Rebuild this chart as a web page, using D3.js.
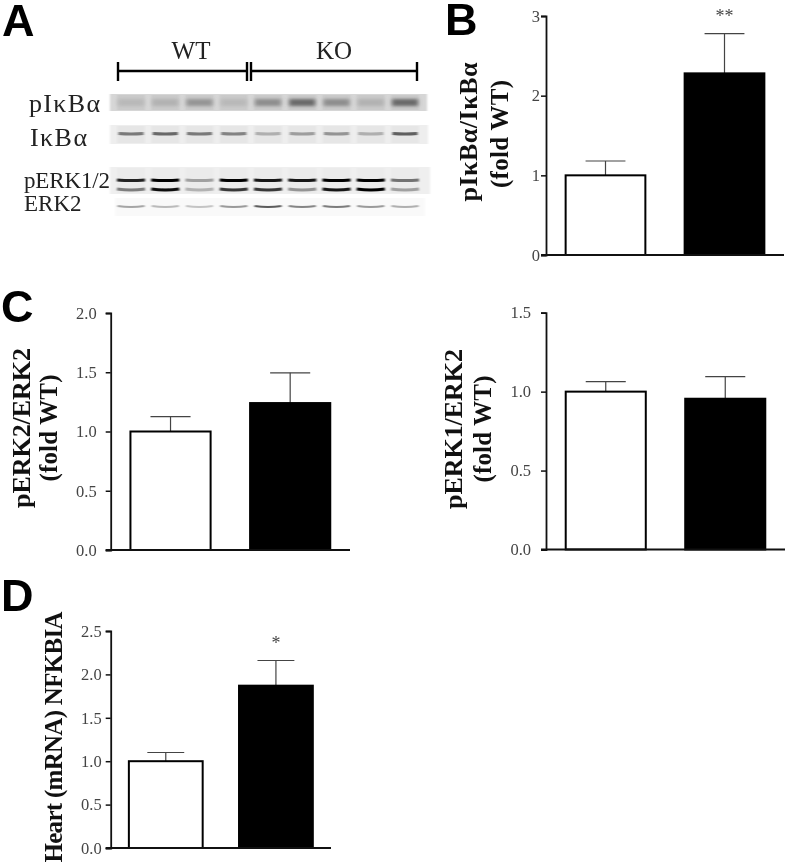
<!DOCTYPE html>
<html>
<head>
<meta charset="utf-8">
<script src="https://cdn.jsdelivr.net/npm/d3@7"></script>
<style>
  body { margin: 0; background: #fff; }
  svg { display: block; filter: blur(0.35px); }
  text { font-family: "Liberation Serif", serif; }
  .letter { font-family: "Liberation Sans", Arial, sans-serif; font-weight: bold; font-size: 45px; fill: #000; }
  .tick text { font-size: 16.5px; fill: #444; font-family: "Liberation Serif", serif; }
  .ylab { font-weight: bold; font-size: 26px; fill: #111; }
</style>
</head>
<body>
<svg width="788" height="866"></svg>
<script>
// bar panels
var groups = ['WT', 'KO'];

var ikbValues = [1.0, 2.28];
var ikbErrors = [0.18, 0.50];
var ikbTicks = [0, 1, 2, 3];

var erk2Values = [1.0, 1.24];
var erk2Errors = [0.125, 0.255];
var erk2Ticks = [0, 0.5, 1.0, 1.5, 2.0];

var erk1Values = [1.0, 0.955];
var erk1Errors = [0.063, 0.14];
var erk1Ticks = [0, 0.5, 1.0, 1.5];

var nfkbValues = [1.0, 1.87];
var nfkbErrors = [0.10, 0.29];
var nfkbTicks = [0, 0.5, 1.0, 1.5, 2.0, 2.5];

// blot band strength per lane, 0 = nothing, 1 = black
var lanes = [1, 2, 3, 4, 5, 6, 7, 8, 9];
var pikbBand = [0.3, 0.35, 0.55, 0.3, 0.6, 0.85, 0.6, 0.35, 0.85];
var ikbBand = [0.6, 0.7, 0.6, 0.55, 0.3, 0.4, 0.45, 0.3, 0.75];
var perk1Band = [0.85, 1, 0.3, 1, 0.9, 0.9, 1, 1, 0.5];
var perk2Band = [0.45, 0.95, 0.22, 0.75, 0.75, 0.35, 0.9, 1, 0.3];
var erk2Band = [0.3, 0.2, 0.15, 0.35, 0.65, 0.45, 0.5, 0.35, 0.25];

var svg = d3.select('svg');

function drawPanel(p) {
  var x = d3.scaleBand().domain(groups).range([p.left, p.right]).paddingInner(0.33).paddingOuter(0.165);
  var y = d3.scaleLinear().domain([0, p.max]).range([p.bottom, p.top]);
  var g = svg.append('g');

  // error bars go first so the bar outline sits on top
  groups.forEach(function(name, i) {
    var cx = x(name) + x.bandwidth() / 2;
    var capw = x.bandwidth() / 4;
    var top = y(p.values[i] + p.errors[i]);
    g.append('line').attr('x1', cx).attr('x2', cx).attr('y1', y(p.values[i])).attr('y2', top)
      .attr('stroke', '#444').attr('stroke-width', 1.2);
    g.append('line').attr('x1', cx - capw).attr('x2', cx + capw).attr('y1', top).attr('y2', top)
      .attr('stroke', '#444').attr('stroke-width', 1.2);
  });

  g.selectAll('rect').data(p.values).enter().append('rect')
    .attr('x', function(d, i) { return x(groups[i]); })
    .attr('y', function(d) { return y(d); })
    .attr('width', x.bandwidth())
    .attr('height', function(d) { return p.bottom - y(d); })
    .attr('fill', function(d, i) { return i === 0 ? '#fff' : '#000'; })
    .attr('stroke', '#000')
    .attr('stroke-width', 2);

  var axis = d3.axisLeft(y).tickValues(p.ticks).tickSize(5).tickPadding(p.pad).tickFormat(d3.format(p.fmt));
  var ag = g.append('g').attr('transform', 'translate(' + p.left + ',0)').call(axis);
  ag.selectAll('line').attr('stroke', '#111').attr('stroke-width', 1.5);
  ag.select('.domain').attr('stroke', '#111').attr('stroke-width', 1.8);

  g.append('line').attr('x1', p.left - 5).attr('x2', p.right).attr('y1', p.bottom).attr('y2', p.bottom)
    .attr('stroke', '#111').attr('stroke-width', 1.8);

  p.labels.forEach(function(l) {
    g.append('text').attr('class', 'ylab')
      .attr('transform', 'translate(' + l.x + ',' + l.y + ') rotate(-90)')
      .attr('text-anchor', 'middle')
      .attr('textLength', l.len)
      .style('font-size', l.size ? l.size + 'px' : null)
      .text(l.text);
  });

  if (p.stars) {
    var sx = x('KO') + x.bandwidth() / 2;
    g.append('text').attr('x', sx)
      .attr('y', y(p.values[1] + p.errors[1]) - 12)
      .attr('text-anchor', 'middle')
      .attr('font-size', 18).attr('fill', '#444')
      .text(p.stars);
  }
}

drawPanel({ left: 546, right: 784, top: 16, bottom: 255, max: 3, pad: 1, values: ikbValues, errors: ikbErrors, ticks: ikbTicks, fmt: 'd', stars: '**',
  labels: [{ x: 477, y: 132, text: 'pIκBα/IκBα', len: 139 }, { x: 508, y: 134, text: '(fold WT)', len: 108, size: 25 }] });
drawPanel({ left: 110.7, right: 350, top: 313, bottom: 550, max: 2, pad: 9, values: erk2Values, errors: erk2Errors, ticks: erk2Ticks, fmt: '.1f',
  labels: [{ x: 30, y: 428, text: 'pERK2/ERK2', len: 160 }, { x: 57, y: 428, text: '(fold WT)', len: 107, size: 25 }] });
drawPanel({ left: 546, right: 785, top: 312.7, bottom: 549.5, max: 1.5, pad: 10, values: erk1Values, errors: erk1Errors, ticks: erk1Ticks, fmt: '.1f',
  labels: [{ x: 462, y: 429, text: 'pERK1/ERK2', len: 160 }, { x: 491, y: 429, text: '(fold WT)', len: 107, size: 25 }] });
drawPanel({ left: 110.7, right: 331, top: 631, bottom: 848, max: 2.5, pad: 4, values: nfkbValues, errors: nfkbErrors, ticks: nfkbTicks, fmt: '.1f', stars: '*',
  labels: [{ x: 62, y: 737, text: 'Heart (mRNA) NFKBIA', len: 251, size: 25 }] });

// panel letters
[['A', 2, 36], ['B', 445, 35], ['C', 1, 322], ['D', 1, 611]].forEach(function(d) {
  svg.append('text').attr('class', 'letter').attr('x', d[1]).attr('y', d[2]).text(d[0]);
});

// western blot
// user space filter region, a flat band has a zero height bbox
var defs = svg.append('defs');
function blurFilter(id, dev) {
  defs.append('filter').attr('id', id).attr('filterUnits', 'userSpaceOnUse')
    .attr('x', 0).attr('y', 0).attr('width', 788).attr('height', 866)
    .append('feGaussianBlur').attr('stdDeviation', dev);
}
blurFilter('soft', '1 0.6');
blurFilter('softer', '2 1.6');

var laneX = d3.scalePoint().domain(lanes).range([131, 405]);

function strip(x0, x1, y0, y1, fill, smear) {
  svg.append('rect').attr('x', x0).attr('y', y0).attr('width', x1 - x0).attr('height', y1 - y0)
    .attr('fill', fill).attr('filter', 'url(#soft)');
  if (smear) {
    svg.selectAll(null).data(lanes).enter().append('rect')
      .attr('x', function(d) { return laneX(d) - 14; })
      .attr('y', y0 + 1).attr('width', 28).attr('height', y1 - y0 - 2)
      .attr('fill', smear).attr('filter', 'url(#soft)');
  }
}

// one slightly bowed band per lane
function bands(values, y, width, thick, bow, darkest, filter) {
  var shade = d3.scaleLinear().domain([0, 1]).range(['#e4e4e4', darkest]);
  svg.selectAll(null).data(values).enter().append('path')
    .attr('d', function(d, i) {
      var x0 = laneX(lanes[i]) - width / 2;
      return 'M' + x0 + ',' + y + 'q' + width / 2 + ',' + bow + ' ' + width + ',0';
    })
    .attr('fill', 'none')
    .attr('stroke', function(d) { return shade(d); })
    .attr('stroke-width', thick)
    .attr('filter', 'url(#' + filter + ')');
}

strip(110, 427, 94, 111, '#d6d6d6', '#cacaca');
bands(pikbBand, 102.5, 26, 7, 0, '#555', 'softer');
strip(110, 428, 125, 144, '#eeeeee', '#e6e6e6');
bands(ikbBand, 133.5, 25, 2.8, 1, '#333', 'soft');
strip(110, 430, 167, 194, '#efefef', '#ebebeb');
bands(perk1Band, 180, 28, 3, 1, '#000', 'soft');
bands(perk2Band, 189, 28, 3, 2, '#000', 'soft');
strip(115, 425, 198, 216, '#f9f9f9');
bands(erk2Band, 206, 27, 2.2, 2, '#111', 'soft');

// WT / KO brackets
[[118, 247], [251, 417]].forEach(function(b) {
  svg.append('line').attr('x1', b[0]).attr('x2', b[1]).attr('y1', 71).attr('y2', 71).attr('stroke', '#000').attr('stroke-width', 2.4);
  b.forEach(function(xv) {
    svg.append('line').attr('x1', xv).attr('x2', xv).attr('y1', 62).attr('y2', 81).attr('stroke', '#000').attr('stroke-width', 2.4);
  });
});

function blotLabel(txt, x, y, size, anchor, len) {
  svg.append('text').attr('x', x).attr('y', y).attr('font-size', size).attr('fill', '#222')
    .attr('text-anchor', anchor || 'start').attr('textLength', len).text(txt);
}
blotLabel('WT', 191, 59, 25, 'middle');
blotLabel('KO', 334, 59, 25, 'middle');
blotLabel('pIκBα', 29, 112, 26, 'start', 71);
blotLabel('IκBα', 30, 146, 26, 'start', 57);
blotLabel('pERK1/2', 24, 188, 23, 'start', 86);
blotLabel('ERK2', 24, 211, 23);
</script>
</body>
</html>
